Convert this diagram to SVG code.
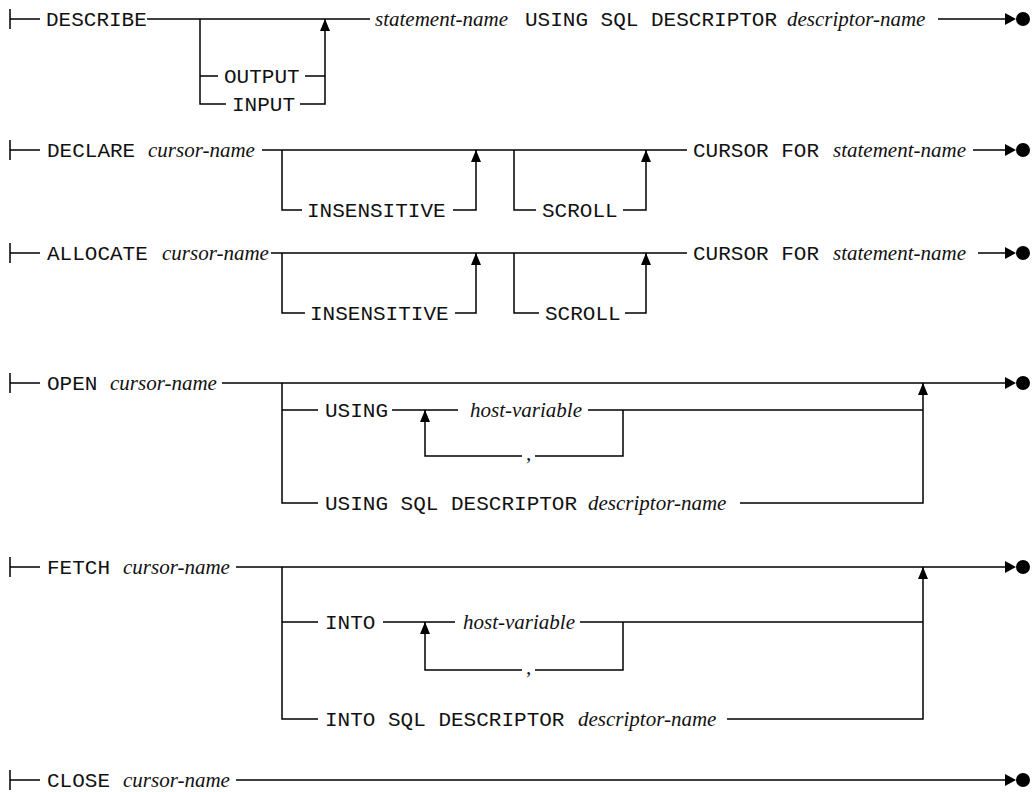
<svg xmlns="http://www.w3.org/2000/svg" xmlns:xlink="http://www.w3.org/1999/xlink" width="1032" height="792" viewBox="0 0 1032 792">
<style>
.k{font-family:"Liberation Mono","Courier New",monospace;font-size:21px;fill:#111}
.v{font-family:"Liberation Serif","Times New Roman",serif;font-style:italic;font-size:21px;fill:#111}
.ln{stroke:#000;stroke-width:1.5;fill:none}
.ah{fill:#000}
</style>
<defs>
<path id="up" class="ah" d="M0,0 L5,12 L-5,12 Z"/>
<g id="end"><path class="ah" d="M0,-6 L0,6 L11,0 Z"/><circle class="ah" cx="18" cy="0" r="7"/></g>
</defs>
<rect width="1032" height="792" fill="#fff"/>
<g id="connectors">
<path class="ln" d="M10,9 V29 M10,19 H40 M147,19 H370 M200,19 V104 H226 M200,76 H218 M305,76 H325 M300,104 H325 V19 M938,19 H1005"/>
<use href="#up" x="325" y="19"/>
<use href="#end" x="1005" y="19"/>
<path class="ln" d="M10,140 V160 M10,150 H40 M262,150 H687 M282,150 V210 H302 M453,210 H476 V150 M514,150 V210 H536 M623,210 H646 V150 M973,150 H1005"/>
<use href="#up" x="476" y="150"/>
<use href="#up" x="646" y="150"/>
<use href="#end" x="1005" y="150"/>
<path class="ln" d="M10,243 V263 M10,253 H40 M271,253 H687 M282,253 V313 H305 M455,313 H476 V253 M514,253 V313 H539 M625,313 H646 V253 M978,253 H1005"/>
<use href="#up" x="476" y="253"/>
<use href="#up" x="646" y="253"/>
<use href="#end" x="1005" y="253"/>
<path class="ln" d="M10,373 V393 M10,383 H40 M222,383 H1005 M282,383 V503 H318 M282,410 H318 M392,410 H458 M588,410 H923 M425,410 V456 H522 M535,456 H623 V410 M740,503 H923 V383"/>
<use href="#up" x="425" y="410"/>
<use href="#up" x="923" y="383"/>
<use href="#end" x="1005" y="383"/>
<path class="ln" d="M10,557 V577 M10,567 H40 M236,567 H1005 M282,567 V719 H318 M282,622 H318 M383,622 H455 M580,622 H923 M425,622 V670 H522 M535,670 H623 V622 M727,719 H923 V567"/>
<use href="#up" x="425" y="622"/>
<use href="#up" x="923" y="567"/>
<use href="#end" x="1005" y="567"/>
<path class="ln" d="M10,770 V790 M10,780 H40 M236,780 H1005"/>
<use href="#end" x="1005" y="780"/>
</g>
<g id="describe"><text class="k" x="46" y="26">DESCRIBE</text></g>
<g id="output"><text class="k" x="224" y="83">OUTPUT</text></g>
<g id="input"><text class="k" x="232" y="111">INPUT</text></g>
<g id="describe-tail"><text x="375" y="26"><tspan class="v">statement-name</tspan><tspan class="k" x="525">USING SQL DESCRIPTOR</tspan><tspan class="v" x="787">descriptor-name</tspan></text></g>
<g id="declare"><text class="k" x="47" y="157">DECLARE</text><text class="v" x="148" y="157">cursor-name</text></g>
<g id="declare-insensitive"><text class="k" x="307" y="217">INSENSITIVE</text></g>
<g id="declare-scroll"><text class="k" x="542" y="217">SCROLL</text></g>
<g id="declare-tail"><text class="k" x="693" y="157">CURSOR FOR</text><text class="v" x="833" y="157">statement-name</text></g>
<g id="allocate"><text class="k" x="47" y="260">ALLOCATE</text><text class="v" x="162" y="260">cursor-name</text></g>
<g id="allocate-insensitive"><text class="k" x="310" y="320">INSENSITIVE</text></g>
<g id="allocate-scroll"><text class="k" x="545" y="320">SCROLL</text></g>
<g id="allocate-tail"><text class="k" x="693" y="260">CURSOR FOR</text><text class="v" x="833" y="260">statement-name</text></g>
<g id="open"><text class="k" x="47" y="390">OPEN</text><text class="v" x="110" y="390">cursor-name</text></g>
<g id="open-using"><text class="k" x="325" y="417">USING</text></g>
<g id="open-hostvar"><text class="v" x="470" y="417">host-variable</text></g>
<g id="open-comma"><text class="v" x="526" y="460">,</text></g>
<g id="open-descriptor"><text class="k" x="325" y="510">USING SQL DESCRIPTOR</text><text class="v" x="588" y="510">descriptor-name</text></g>
<g id="fetch"><text class="k" x="47" y="574">FETCH</text><text class="v" x="123" y="574">cursor-name</text></g>
<g id="fetch-into"><text class="k" x="325" y="629">INTO</text></g>
<g id="fetch-hostvar"><text class="v" x="463" y="629">host-variable</text></g>
<g id="fetch-comma"><text class="v" x="526" y="674">,</text></g>
<g id="fetch-descriptor"><text class="k" x="325" y="726">INTO SQL DESCRIPTOR</text><text class="v" x="578" y="726">descriptor-name</text></g>
<g id="close"><text class="k" x="47" y="787">CLOSE</text><text class="v" x="123" y="787">cursor-name</text></g>
</svg>
